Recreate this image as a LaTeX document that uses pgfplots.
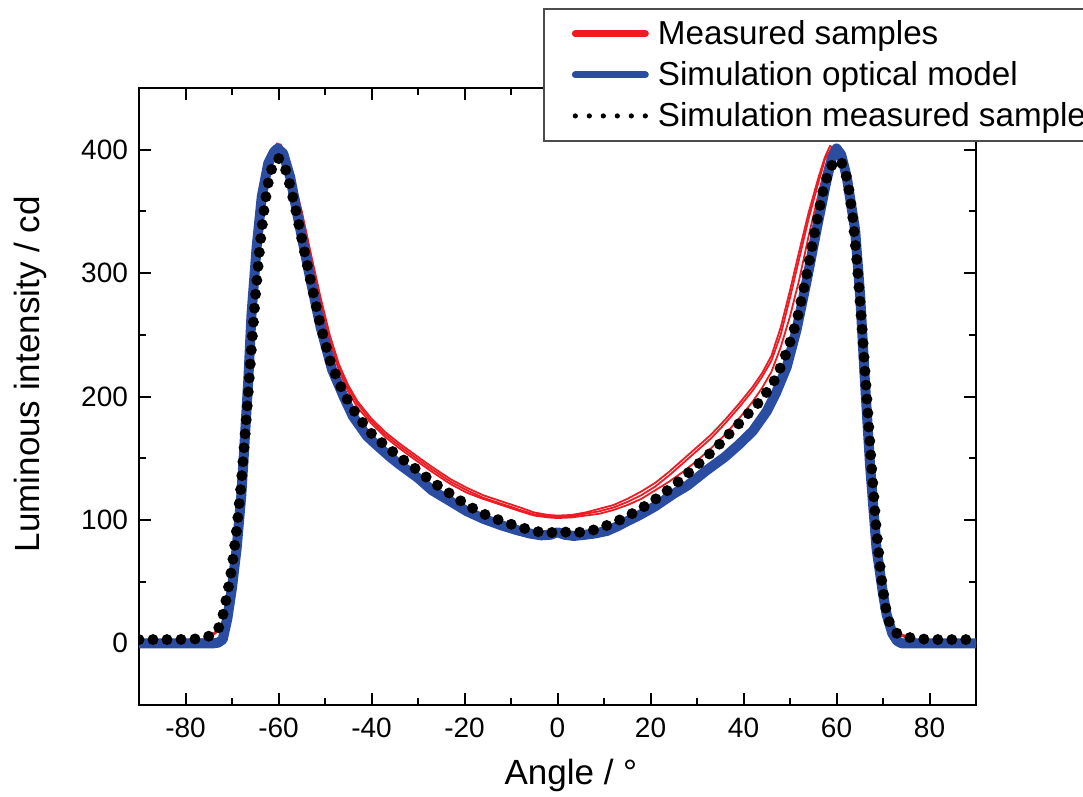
\documentclass[border=0pt]{standalone}
\usepackage{fontspec}
\setmainfont{Liberation Sans}
\usepackage{pgfplots}
\pgfplotsset{compat=1.18}
\usetikzlibrary{calc}
\definecolor{MeasRed}{HTML}{ED1C24}
\definecolor{SimBlue}{HTML}{2B4DA1}

% measured samples, three curves
\pgfplotstableread{
x y
-90 0
-78 0.5
-76 4
-74 8
-73 11
-72 18
-71 35
-70 60
-69 92
-68 135
-67 185
-66 240
-65 290
-64 333
-63 366
-62 389
-61 401
-60.3 405
-59.5 404
-58.5 397
-57 380
-55 350
-53 315
-51 281
-49 250
-47 226
-45 209
-43 196
-40 182
-37 171
-34 162
-30 151
-27 143
-23 133
-19.5 126
-16 120
-12 115
-8 110
-5 106
-2 104
0 103.5
3 104
6 106
9 109
12 112
15 117
18 123
21 130
24 139
27 149
30 159
33 169
36 181
39 194
42 208
44 219
46 233
48 256
50 286
52 318
54 349
56 376
57.5 394
58.6 403
59.6 401
60.6 392
61.6 376
62.5 356
63.4 335
64.5 281
65.4 213
66.5 145
68 77
69.4 40
70.2 23
71 14
72 10
74 7
76 5
78 1.5
80 0
90 0
}\measA
\pgfplotstableread{
x y
-90 0
-78 0.5
-76 3.5
-74 7
-73 10
-72 17
-71 34
-70 59
-69 91
-68 134
-67 184
-66 239
-65 289
-64 332
-63 365
-62 388
-61 400
-60.3 403
-59.5 402
-58.5 395
-57 378
-55 348
-53 313
-51 279
-49 248
-47 224
-45 207
-43 194
-40 180
-37 169
-34 160
-30 149
-27 141
-23 131
-19.5 124
-16 118
-12 113
-8 108
-5 104.5
-2 103
0 102.5
3 103
6 105
9 107
12 110
15 114.5
18 120
21 127
24 136
27 146
30 156
33 166
36 178
39 191
42 205
44 216
46 229
48 250
50 280
52 312
54 344
56 372
57.5 392
58.9 401
59.8 400
60.8 391
61.7 375
62.6 355
63.5 334
64.6 280
65.5 212
66.6 144
68.1 76
69.5 39
70.3 22
71 14
72 9
74 6
76 4
78 1
80 0
90 0
}\measB
\pgfplotstableread{
x y
-90 0
-78 0.5
-76 3.5
-74 7
-73 10
-72 17
-71 34
-70 59
-69 91
-68 134
-67 184
-66 239
-65 289
-64 332
-63 365
-62 388
-61 399
-60.3 402
-59.5 401
-58.5 394
-57 376
-55 346
-53 310
-51 276
-49 245
-47 221
-45 204
-43 191
-40 178
-37 167
-34 158
-30 147
-27 139
-23 129
-19.5 122
-16 117
-12 112
-8 107
-5 103.5
-2 102
0 101.5
3 102
6 103.5
9 105
12 108
15 112
18 117
21 124
24 131
27 139
30 148
33 158
36 169
39 182
42 196
44 207
46 220
48 240
50 265
52 295
54 330
56 362
57.5 385
58.8 400
59.8 401
60.8 392
61.8 375
62.7 355
63.6 334
64.7 280
65.6 212
66.7 144
68.2 76
69.6 39
70.4 22
71 14
72 9
74 6
76 4
78 1
80 0
90 0
}\measC

% simulation, optical model
\pgfplotstableread{
x y
-90 0
-74 0
-73 0.5
-72 3
-71 20
-70 45
-69 77
-68 120
-67.5 150
-66.5 213
-65.8 267
-64.7 321
-63.6 362
-62.2 389
-61 398
-60.2 401
-59 397
-57.5 378
-55.4 337
-53.2 296
-51 257
-48.5 222
-46 200
-44 184
-41 168
-39 161
-36 151
-34 145
-30 134
-27 124
-23 115
-19.5 107
-16 101
-12.4 96
-9 92
-6 89
-3.5 87.5
-1.5 88
0 90
1.5 88
3.5 87
6 88
8 89
10.6 91
13 95
15 99
17.7 104
21 111
24.9 121
28 128
32 140
36 151
39 161
42 172
45 188
47 203
49.3 224
51.4 254
53.6 294
55.7 335
57.9 376
59 393
60 401
61 396
62.2 378
64 335
65.1 281
66.1 213
67.2 145
68.6 77
70 40
70.8 23
72 8
73 2
74 0
90 0
}\simopt

% simulation, measured sample
\pgfplotstableread{
x y
-90 3
-86 3
-82 3
-78 3.5
-76 4.5
-74 7
-73 11
-72 22
-71 40
-70 62
-69 92
-68 130
-67 178
-66 230
-65 280
-64 322
-63 355
-62 378
-61 390
-60 393
-59 390
-58 378
-56.5 355
-55 328
-53 292
-51 258
-49 230
-47 211
-45 196
-43 184
-40 170
-37 160
-34 151
-30 140
-27 131
-23 121
-19.5 112
-16 105
-12 99
-8 94
-5 91
-2 89
0 91
2 90
5 90
8 92
11 96
14 101
17 107
20 114
23 122
26 131
29 141
32 151
35 162
38 174
41 186
44 198
47 215
49.5 238
51.5 262
53.5 297
55.5 337
57 365
58.5 385
60 392
61.5 388
62.5 372
63.5 345
64.5 305
65.5 255
66.5 200
67.5 145
68.5 95
69.5 57
70.5 30
71.5 15
73 8
75 5
78 3.5
82 3
86 3
90 3
}\simmeas

\begin{document}
\begin{tikzpicture}
\begin{axis}[
  name=ax,
  scale only axis,
  width=418.5pt,
  height=308.5pt,
  xmin=-90, xmax=90,
  ymin=-50, ymax=450,
  xtick={-80,-60,...,80},
  ytick={0,100,...,400},
  minor x tick num=1,
  minor y tick num=1,
  tick align=inside,
  axis line style={line width=1pt},
  every tick/.style={black,line width=1pt},
  major tick length=6pt,
  minor tick length=3.5pt,
  tick label style={font=\fontsize{14}{16}\selectfont},
  /pgf/number format/assume math mode=true,
  xticklabel style={yshift=-3pt},
  yticklabel style={xshift=-2pt},
  xlabel={Angle / °},
  ylabel={Luminous intensity / cd},
  label style={font=\fontsize{17.5}{21}\selectfont},
  xlabel style={at={(axis description cs:0.516,-0.1135)},anchor=center},
  ylabel style={at={(axis description cs:-0.130,0.536)},anchor=center},
  legend cell align=left,
  legend style={
    at={(0.4827,1.1297)}, anchor=north west,
    draw=black!70, line width=0.8pt, fill=white,
    font=\fontsize{16.6}{18}\selectfont,
    inner xsep=14pt, inner ysep=4.5pt,
    row sep=4.5pt,
    nodes={inner sep=1.5pt, text depth=1pt},
    /tikz/every odd column/.append style={column sep=2.5pt},
  },
]
\addplot[MeasRed,line width=0.9pt,
  legend image code/.code={\draw[MeasRed,line width=3.5pt,line cap=round] (0pt,0pt) -- (35pt,0pt);}]
  table {\measA};
\addlegendentry{Measured samples}
\addplot[MeasRed,line width=0.9pt,forget plot] table {\measB};
\addplot[MeasRed,line width=0.9pt,forget plot] table {\measC};
\addplot[SimBlue,line width=5pt,line join=round,line cap=round,
  legend image code/.code={\draw[SimBlue,line width=3.5pt,line cap=round] (0pt,0pt) -- (35pt,0pt);}]
  table {\simopt};
\addlegendentry{Simulation optical model}
\addplot[black,line width=5.5pt,line cap=round,dash pattern=on 0pt off 7pt,
  legend image code/.code={\draw[black,line width=2.6pt,line cap=round,dash pattern=on 0pt off 7pt] (0pt,0pt) -- (36pt,0pt);}]
  table {\simmeas};
\addlegendentry{Simulation measured sample}
\end{axis}
\pgfresetboundingbox
\path[use as bounding box] ($(ax.south west)+(-69.5pt,-45.5pt)$) rectangle ($(ax.north east)+(53.5pt,44pt)$);
\end{tikzpicture}
\end{document}
